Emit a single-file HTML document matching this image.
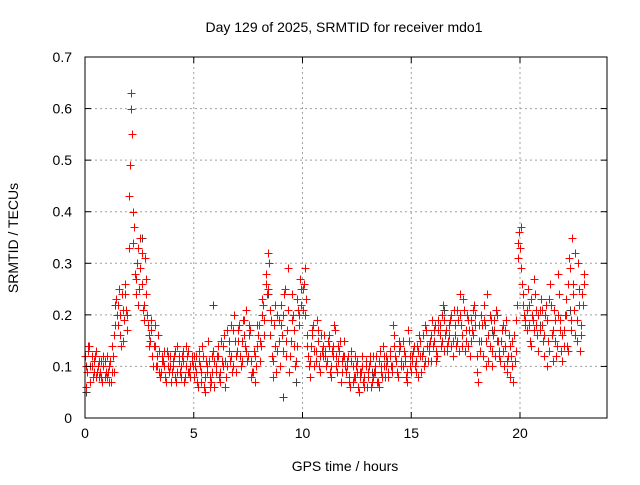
<!DOCTYPE html>
<html><head><meta charset="utf-8"><style>
body{margin:0;background:#fff}
svg text{font-family:"Liberation Sans",sans-serif;font-size:14px;fill:#000}
</style></head><body>
<svg width="640" height="480" id="chart">
<rect width="640" height="480" fill="#fff"/>
<g id="grid"></g>
<g id="marks"></g>
<g id="axes"></g>
<text x="344" y="32" text-anchor="middle">Day 129 of 2025, SRMTID for receiver mdo1</text>
<text x="345" y="471" text-anchor="middle">GPS time / hours</text>
<text transform="translate(18,238) rotate(-90)" text-anchor="middle">SRMTID / TECUs</text>
</svg>
<script>
const xTicks=[0,5,10,15,20];
const yTicks=[0,0.1,0.2,0.3,0.4,0.5,0.6,0.7];
const yTickLabels=["0","0.1","0.2","0.3","0.4","0.5","0.6","0.7"];
const seriesA=[.12,.09,.14,.10,.11,.08,.10,.09,.07,.11,.08,.10,.07,.12,.18,.22,.16,.24,.19,.21,.33,.63,.40,.28,.30,.25,.32,.22,.27,.18,.15,.12,.18,.10,.13,.09,.11,.08,.12,.10,.09,.12,.07,.11,.10,.13,.08,.12,.09,.11,.08,.12,.06,.10,.14,.05,.09,.11,.07,.13,.09,.14,.07,.11,.16,.08,.13,.18,.10,.15,.13,.18,.11,.16,.21,.12,.17,.09,.07,.14,.18,.14,.22,.26,.32,.21,.12,.18,.09,.15,.22,.13,.25,.17,.09,.19,.14,.11,.21,.27,.21,.29,.16,.10,.14,.18,.11,.15,.09,.13,.16,.10,.14,.08,.12,.17,.09,.13,.11,.15,.09,.12,.06,.10,.08,.11,.05,.09,.07,.10,.08,.11,.07,.09,.12,.06,.10,.14,.08,.11,.13,.09,.16,.11,.08,.14,.10,.12,.07,.15,.09,.13,.11,.08,.15,.12,.10,.17,.14,.11,.14,.18,.12,.16,.20,.13,.17,.15,.19,.12,.16,.21,.13,.18,.23,.15,.19,.12,.17,.22,.09,.15,.20,.12,.18,.24,.14,.10,.17,.21,.15,.11,.18,.14,.09,.16,.12,.07,.19,.31,.33,.26,.20,.17,.22,.14,.19,.24,.16,.21,.18,.12,.22,.15,.26,.11,.19,.14,.24,.13,.17,.23,.13,.29,.35,.21,.15,.25,.18,.22];
const seriesB=[.06,.13,.10,.08,.12,.09,.11,.08,.10,.09,.09,.11,.14,.09,.20,.25,.14,.21,.26,.17,.49,.55,.37,.24,.33,.29,.21,.31,.20,.16,.19,.14,.10,.16,.08,.12,.10,.13,.09,.07,.11,.08,.14,.09,.12,.07,.10,.13,.08,.10,.10,.07,.13,.09,.06,.11,.15,.08,.12,.06,.12,.08,.15,.10,.06,.17,.11,.09,.20,.12,.15,.10,.19,.14,.11,.18,.08,.13,.10,.16,.11,.20,.16,.24,.30,.19,.08,.14,.20,.10,.16,.24,.12,.29,.15,.20,.10,.23,.18,.25,.26,.23,.12,.08,.17,.13,.19,.10,.16,.12,.12,.15,.09,.13,.18,.10,.14,.07,.12,.10,.11,.07,.13,.08,.10,.06,.09,.12,.08,.06,.10,.06,.12,.09,.07,.13,.08,.10,.12,.09,.10,.18,.12,.09,.15,.11,.13,.08,.17,.10,.12,.10,.14,.16,.09,.13,.18,.11,.15,.19,.17,.11,.19,.14,.22,.16,.13,.18,.14,.21,.14,.19,.24,.16,.13,.20,.17,.15,.21,.18,.07,.13,.18,.22,.15,.11,.19,.16,.12,.20,.13,.17,.10,.19,.12,.08,.15,.11,.22,.36,.29,.22,.18,.25,.15,.20,.27,.18,.13,.23,.15,.20,.10,.23,.16,.21,.12,.28,.17,.11,.20,.14,.31,.19,.26,.16,.30,.13,.24,.28];
const seriesC=[.10,.14,.07,.12,.09,.13,.08,.11,.12,.08,.12,.07,.09,.16,.23,.18,.20,.15,.24,.20,.43,.60,.34,.27,.22,.35,.26,.19,.24,.14,.17,.10,.14,.12,.09,.11,.13,.07,.10,.12,.10,.13,.09,.12,.08,.11,.14,.09,.10,.12,.12,.09,.11,.07,.12,.08,.10,.06,.09,.11,.10,.12,.09,.14,.11,.10,.15,.12,.17,.09,.17,.12,.15,.19,.13,.16,.11,.09,.12,.18,.15,.23,.19,.28,.25,.16,.11,.22,.13,.19,.18,.20,.15,.21,.12,.24,.17,.14,.20,.22,.25,.20,.14,.11,.16,.10,.13,.17,.12,.14,.13,.11,.16,.10,.14,.12,.11,.15,.09,.12,.10,.08,.11,.07,.12,.09,.08,.10,.06,.11,.09,.12,.08,.10,.07,.11,.09,.12,.10,.08,.12,.10,.14,.09,.13,.10,.15,.11,.09,.12,.11,.14,.09,.13,.12,.16,.11,.14,.13,.16,.15,.13,.17,.18,.15,.19,.14,.16,.20,.15,.18,.15,.20,.14,.21,.17,.14,.19,.16,.20,.12,.18,.15,.19,.10,.16,.20,.13,.19,.15,.12,.15,.13,.17,.11,.14,.10,.16,.13,.34,.37,.24,.19,.21,.18,.23,.17,.21,.20,.17,.21,.16,.19,.13,.22,.17,.15,.20,.19,.16,.14,.20,.26,.17,.24,.32,.19,.22,.16,.26];
const blackTimes=[0.05,1.4,2.6,5.9,8.4,9.1,9.7,13.2,16.5,18.7,20.9,22.3];
const blackValues=[0.05,0.22,0.35,0.22,0.24,0.04,0.07,0.09,0.21,0.17,0.18,0.21];
const timeStep=0.1;
const L=85,R=607,T=57,B=418;
const xs=v=>L+v/24*(R-L);
const ys=v=>B-v/0.7*(B-T);
const NS="http://www.w3.org/2000/svg";
function mk(tag,attrs,parent){const e=document.createElementNS(NS,tag);for(const k in attrs)e.setAttribute(k,attrs[k]);parent.appendChild(e);return e;}
const grid=document.getElementById('grid'),axes=document.getElementById('axes'),marks=document.getElementById('marks');
xTicks.forEach(t=>{
 if(t>0){const g=mk('line',{x1:xs(t),x2:xs(t),y1:T,y2:B,stroke:'#a0a0a0','stroke-dasharray':'2,3'},grid);
 
 }
 mk('line',{x1:xs(t),x2:xs(t),y1:B,y2:B-6,stroke:'#000'},axes);
 mk('line',{x1:xs(t),x2:xs(t),y1:T,y2:T+6,stroke:'#000'},axes);
 const tx=mk('text',{x:xs(t),y:B+20,'text-anchor':'middle'},axes);tx.textContent=t;
 
 
});
yTicks.forEach((t,i)=>{
 if(i>0&&i<yTicks.length-1){const g=mk('line',{x1:L,x2:R,y1:ys(t),y2:ys(t),stroke:'#a0a0a0','stroke-dasharray':'2,3'},grid);
 
 }
 mk('line',{x1:L,x2:L+6,y1:ys(t),y2:ys(t),stroke:'#000'},axes);
 mk('line',{x1:R,x2:R-6,y1:ys(t),y2:ys(t),stroke:'#000'},axes);
 const tx=mk('text',{x:L-13,y:ys(t)+5,'text-anchor':'end'},axes);tx.textContent=yTickLabels[i];
 
 
});
const fr=mk('rect',{x:L,y:T,width:R-L,height:B-T,fill:'none',stroke:'#000'},axes);


function cross(t,v,color){
 const x=Math.round(xs(t))+0.5,y=Math.round(ys(v))+0.5;
 const p=mk('path',{d:`M${x-4},${y}H${x+4}M${x},${y-4}V${y+4}`,stroke:color,'stroke-width':1,fill:'none'},marks);
 
 
}
blackTimes.forEach((t,i)=>cross(t,blackValues[i],'#404040'));
seriesA.forEach((v,i)=>cross(i*timeStep,v,'#ff0000'));
seriesB.forEach((v,i)=>cross(i*timeStep+0.05,v,'#ff0000'));
seriesC.forEach((v,i)=>cross(i*timeStep+0.025,v,'#ff0000'));
</script>
</body></html>
